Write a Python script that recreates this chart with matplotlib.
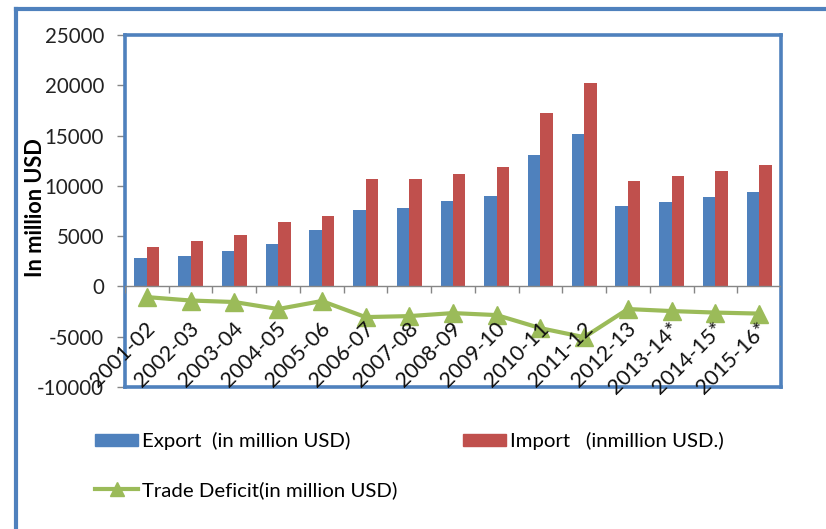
import numpy as np
import matplotlib
matplotlib.use("Agg")
import matplotlib.pyplot as plt
from matplotlib.lines import Line2D
from matplotlib.patches import Patch

plt.rcParams['font.family'] = ['Lato', 'DejaVu Sans']

# Trade figures by fiscal year
years = ['2001-02', '2002-03', '2003-04', '2004-05', '2005-06', '2006-07',
         '2007-08', '2008-09', '2009-10', '2010-11', '2011-12', '2012-13',
         '2013-14*', '2014-15*', '2015-16*']
exports = [2800, 3050, 3570, 4230, 5620, 7640, 7770, 8530, 9000,
           13060, 15110, 7970, 8430, 8900, 9360]
imports = [3900, 4500, 5130, 6420, 7040, 10680, 10680, 11140, 11840,
           17230, 20210, 10490, 10940, 11510, 12070]
deficit = [-1060, -1400, -1550, -2250, -1450, -3050, -2950, -2650, -2850,
           -4150, -5050, -2250, -2450, -2600, -2700]
yticks = [-10000, -5000, 0, 5000, 10000, 15000, 20000, 25000]

BLUE = '#4F81BD'
RED = '#C0504D'
GREEN = '#9BBB59'
GRAY = '#868686'

fig = plt.figure(figsize=(8.26, 5.29), dpi=100)
ax = fig.add_axes([125 / 826, 1 - 387 / 529, 656 / 826, 352 / 529])

x = np.arange(len(years))
w = 0.285
ax.bar(x - w / 2, exports, w, color=BLUE, zorder=2)
ax.bar(x + w / 2, imports, w, color=RED, zorder=2)
ax.plot(x, deficit, color=GREEN, lw=3, marker='^', ms=13, zorder=4)

# category axis drawn along zero
ax.axhline(0, color=GRAY, lw=1, zorder=3)
ax.vlines(np.arange(-0.5, len(years)), -700, 0, color=GRAY, lw=1, zorder=3)

ax.set_xlim(-0.5, len(years) - 0.5)
ax.set_ylim(-10000, 25000)
ax.set_xticks([])
ax.set_yticks(yticks)
ax.set_yticklabels([str(v) for v in yticks], fontsize=14.8, color='#222222')
ax.tick_params(axis='y', length=6, width=1, color=GRAY, pad=9)

for s in ax.spines.values():
    s.set_color(BLUE)
    s.set_linewidth(2.6)

# year labels sit over the deficit line
for i, lab in enumerate(years):
    ax.text(i - 0.04, -3200, lab, rotation=45, rotation_mode='anchor',
            ha='right', va='top', fontsize=15.5, color='#111111', zorder=5)

fig.text(35 / 826, 1 - 208 / 529, 'In million USD', rotation=90,
         ha='center', va='center', fontsize=15.7, fontweight='bold')

# outer chart frame
fig.add_artist(Line2D([16 / 826, 16 / 826], [-0.05, 1 - 9 / 529],
                      transform=fig.transFigure, color=BLUE, lw=3))
fig.add_artist(Line2D([16 / 826, 1.05], [1 - 9 / 529, 1 - 9 / 529],
                      transform=fig.transFigure, color=BLUE, lw=3))

handles = [Patch(color=BLUE),
           Line2D([], [], color=GREEN, lw=3, marker='^', ms=10),
           Patch(color=RED)]
labels = ['Export  (in million USD)', 'Trade Deficit(in million USD)',
          'Import   (inmillion USD.)']
fig.legend(handles, labels, ncol=2, frameon=False, fontsize=14.7,
           loc='upper left', bbox_to_anchor=(85 / 826, 1 - 422 / 529),
           handlelength=2.1, handleheight=0.55, handletextpad=0.2,
           labelspacing=1.5, columnspacing=3.2, borderpad=0, numpoints=1)

fig.savefig('out.png', dpi=100)
